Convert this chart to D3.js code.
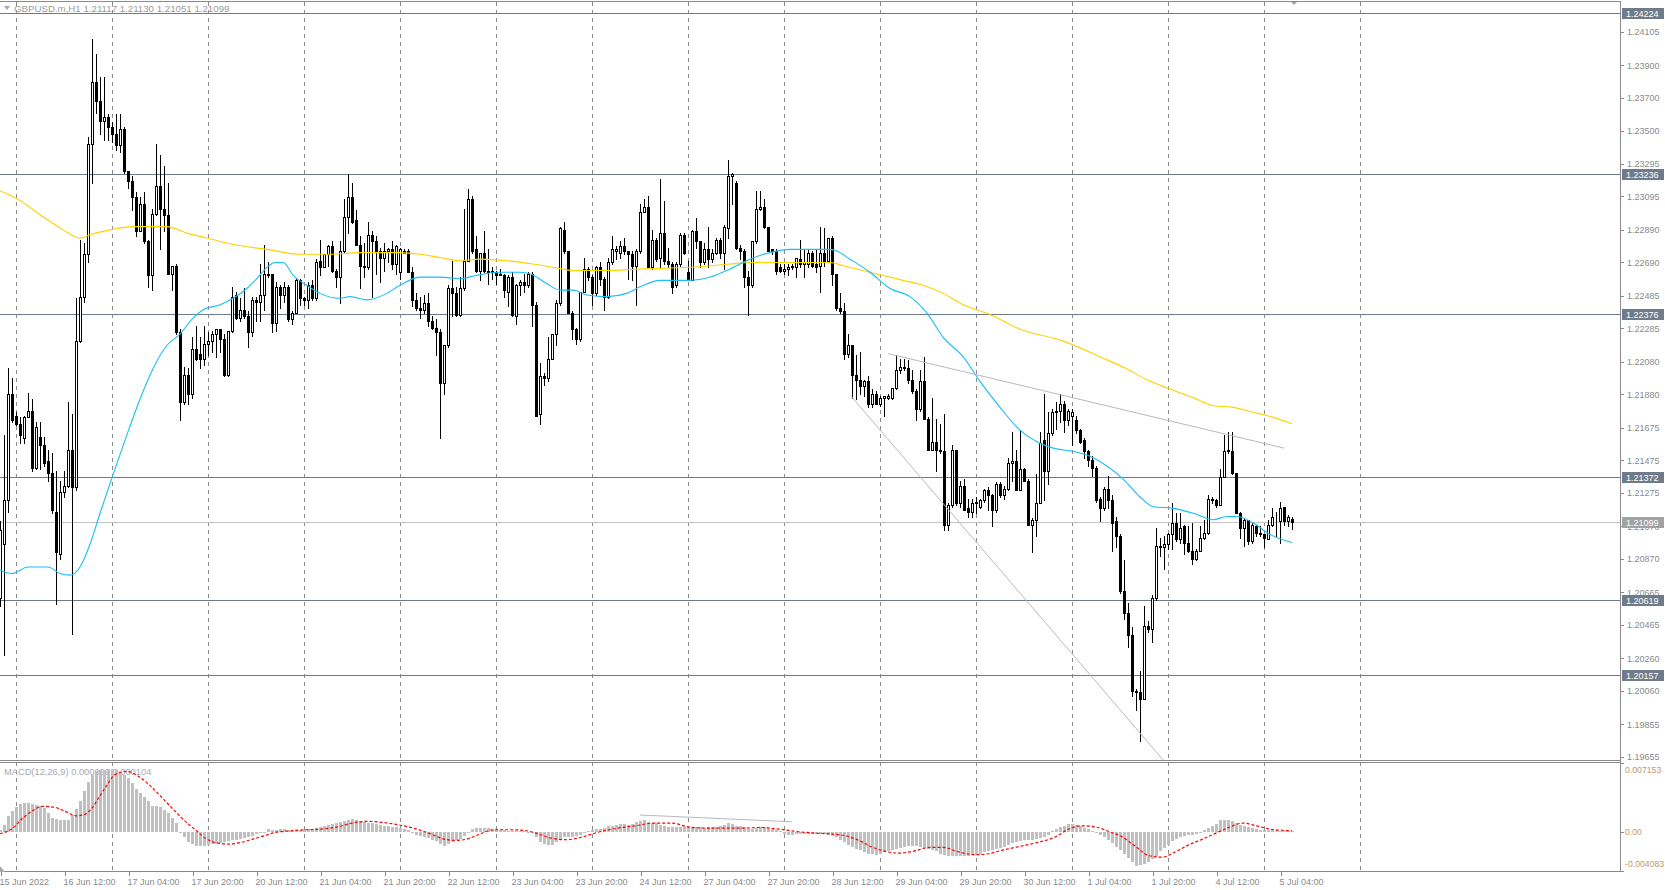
<!DOCTYPE html>
<html><head><meta charset="utf-8">
<script src="https://cdn.jsdelivr.net/npm/d3@7"></script>
<style>
html,body{margin:0;padding:0;background:#fff;overflow:hidden}
svg{display:block}
text{font-family:"Liberation Sans",Arial,sans-serif;font-size:9px}
</style></head><body>
<svg id="c" width="1665" height="890"></svg>
<script>
// ---------------- DATA ----------------
const symbolTitle = "GBPUSD.m,H1  1.21117 1.21130 1.21051 1.21099";
const macdTitle = "MACD(12,26,9) 0.000099 0.000104";
// hourly candles [open, high, low, close], 15 Jun 2022 20:00 .. 5 Jul 2022 07:00
const candles = [
[1.2063,1.2110,1.2058,1.2105],[1.2096,1.2163,1.2028,1.2123],[1.2123,1.2204,1.2116,1.2188],[1.2188,1.2198,1.2171,1.2172],
[1.2175,1.2177,1.2169,1.2170],[1.2170,1.2174,1.2158,1.2163],[1.2161,1.2175,1.2158,1.2174],[1.2174,1.2189,1.2174,1.2178],
[1.2178,1.2185,1.2141,1.2143],[1.2143,1.2171,1.2142,1.2168],[1.2162,1.2171,1.2142,1.2157],[1.2157,1.2162,1.2144,1.2146],
[1.2147,1.2154,1.2135,1.2140],[1.2140,1.2152,1.2115,1.2117],[1.2116,1.2141,1.2059,1.2091],[1.2090,1.2135,1.2087,1.2128],
[1.2128,1.2141,1.2125,1.2132],[1.2132,1.2183,1.2131,1.2154],[1.2154,1.2176,1.2041,1.2131],[1.2131,1.2247,1.2129,1.2221],
[1.2221,1.2283,1.2220,1.2248],[1.2248,1.2281,1.2245,1.2274],[1.2274,1.2346,1.2269,1.2342],[1.2342,1.2406,1.2318,1.2380],
[1.2380,1.2397,1.2361,1.2368],[1.2368,1.2383,1.2348,1.2356],[1.2356,1.2383,1.2344,1.2358],[1.2358,1.2360,1.2344,1.2352],
[1.2352,1.2355,1.2343,1.2348],[1.2348,1.2360,1.2338,1.2341],[1.2341,1.2360,1.2337,1.2351],[1.2351,1.2352,1.2324,1.2325],
[1.2325,1.2325,1.2315,1.2319],[1.2319,1.2322,1.2301,1.2309],[1.2309,1.2312,1.2285,1.2288],[1.2288,1.2309,1.2288,1.2305],
[1.2305,1.2312,1.2281,1.2282],[1.2282,1.2283,1.2254,1.2261],[1.2261,1.2302,1.2252,1.2299],[1.2299,1.2342,1.2298,1.2316],
[1.2316,1.2335,1.2277,1.2302],[1.2302,1.2328,1.2288,1.2298],[1.2298,1.2318,1.2262,1.2262],[1.2262,1.2267,1.2252,1.2267],
[1.2267,1.2268,1.2225,1.2226],[1.2226,1.2228,1.2172,1.2183],[1.2183,1.2205,1.2182,1.2200],[1.2200,1.2204,1.2182,1.2188],
[1.2188,1.2223,1.2186,1.2216],[1.2216,1.2230,1.2209,1.2210],[1.2213,1.2223,1.2204,1.2210],[1.2210,1.2230,1.2206,1.2219],
[1.2219,1.2226,1.2212,1.2221],[1.2221,1.2227,1.2214,1.2225],[1.2225,1.2228,1.2211,1.2228],[1.2228,1.2228,1.2214,1.2222],
[1.2222,1.2225,1.2199,1.2200],[1.2200,1.2227,1.2199,1.2227],[1.2227,1.2254,1.2226,1.2248],[1.2249,1.2251,1.2234,1.2235],
[1.2235,1.2247,1.2233,1.2240],[1.2240,1.2253,1.2235,1.2236],[1.2236,1.2239,1.2217,1.2226],[1.2226,1.2248,1.2224,1.2246],
[1.2246,1.2248,1.2233,1.2245],[1.2245,1.2268,1.2233,1.2249],[1.2249,1.2280,1.2240,1.2262],[1.2262,1.2269,1.2260,1.2261],
[1.2262,1.2262,1.2226,1.2232],[1.2232,1.2257,1.2227,1.2254],[1.2254,1.2255,1.2241,1.2249],[1.2249,1.2257,1.2245,1.2254],
[1.2254,1.2255,1.2233,1.2234],[1.2234,1.2239,1.2231,1.2238],[1.2238,1.2259,1.2238,1.2258],[1.2258,1.2259,1.2243,1.2247],
[1.2247,1.2248,1.2243,1.2246],[1.2246,1.2257,1.2241,1.2255],[1.2255,1.2258,1.2246,1.2247],[1.2247,1.2271,1.2246,1.2269],
[1.2270,1.2283,1.2261,1.2266],[1.2266,1.2274,1.2266,1.2274],[1.2274,1.2280,1.2267,1.2279],[1.2279,1.2282,1.2263,1.2264],
[1.2264,1.2265,1.2254,1.2260],[1.2260,1.2282,1.2244,1.2276],[1.2276,1.2308,1.2275,1.2297],[1.2297,1.2323,1.2287,1.2309],
[1.2309,1.2318,1.2293,1.2294],[1.2295,1.2301,1.2280,1.2280],[1.2280,1.2285,1.2253,1.2267],[1.2267,1.2281,1.2260,1.2266],
[1.2266,1.2294,1.2265,1.2286],[1.2286,1.2288,1.2248,1.2282],[1.2282,1.2285,1.2262,1.2276],[1.2276,1.2278,1.2257,1.2272],
[1.2272,1.2281,1.2264,1.2276],[1.2276,1.2278,1.2269,1.2277],[1.2277,1.2282,1.2265,1.2268],[1.2268,1.2280,1.2262,1.2279],
[1.2263,1.2278,1.2259,1.2277],[1.2276,1.2277,1.2275,1.2275],[1.2276,1.2277,1.2263,1.2263],[1.2263,1.2266,1.2242,1.2246],
[1.2246,1.2250,1.2240,1.2241],[1.2241,1.2248,1.2235,1.2240],[1.2240,1.2249,1.2238,1.2244],[1.2244,1.2250,1.2230,1.2233],
[1.2233,1.2236,1.2228,1.2229],[1.2229,1.2234,1.2212,1.2226],[1.2226,1.2228,1.2161,1.2195],[1.2195,1.2218,1.2188,1.2218],
[1.2218,1.2255,1.2217,1.2253],[1.2253,1.2270,1.2236,1.2250],[1.2250,1.2254,1.2236,1.2237],[1.2237,1.2260,1.2236,1.2253],
[1.2253,1.2302,1.2252,1.2270],[1.2270,1.2314,1.2270,1.2308],[1.2308,1.2310,1.2275,1.2276],[1.2277,1.2285,1.2263,1.2264],
[1.2264,1.2275,1.2258,1.2275],[1.2275,1.2288,1.2263,1.2264],[1.2264,1.2277,1.2256,1.2263],[1.2263,1.2266,1.2259,1.2264],
[1.2263,1.2264,1.2256,1.2261],[1.2262,1.2265,1.2261,1.2261],[1.2261,1.2262,1.2248,1.2252],[1.2251,1.2261,1.2242,1.2260],
[1.2260,1.2263,1.2236,1.2237],[1.2236,1.2256,1.2231,1.2255],[1.2255,1.2258,1.2249,1.2257],[1.2257,1.2262,1.2251,1.2255],
[1.2255,1.2263,1.2254,1.2262],[1.2262,1.2263,1.2230,1.2243],[1.2243,1.2245,1.2175,1.2175],[1.2176,1.2207,1.2170,1.2199],
[1.2199,1.2201,1.2194,1.2198],[1.2198,1.2223,1.2196,1.2210],[1.2210,1.2225,1.2210,1.2225],[1.2225,1.2246,1.2218,1.2244],
[1.2244,1.2291,1.2243,1.2290],[1.2289,1.2294,1.2275,1.2276],[1.2276,1.2276,1.2238,1.2238],[1.2238,1.2239,1.2222,1.2228],
[1.2228,1.2229,1.2219,1.2222],[1.2222,1.2251,1.2221,1.2251],[1.2251,1.2272,1.2251,1.2265],[1.2265,1.2266,1.2258,1.2260],
[1.2260,1.2261,1.2243,1.2250],[1.2250,1.2267,1.2249,1.2266],[1.2266,1.2269,1.2255,1.2259],[1.2259,1.2260,1.2240,1.2248],
[1.2248,1.2272,1.2247,1.2269],[1.2269,1.2285,1.2268,1.2277],[1.2276,1.2279,1.2271,1.2277],[1.2275,1.2282,1.2272,1.2279],
[1.2279,1.2284,1.2274,1.2276],[1.2276,1.2276,1.2259,1.2274],[1.2274,1.2276,1.2258,1.2267],[1.2267,1.2277,1.2243,1.2276],
[1.2276,1.2305,1.2275,1.2300],[1.2300,1.2308,1.2300,1.2303],[1.2303,1.2310,1.2266,1.2266],[1.2266,1.2289,1.2265,1.2283],
[1.2283,1.2284,1.2270,1.2271],[1.2272,1.2320,1.2266,1.2287],[1.2287,1.2307,1.2268,1.2270],[1.2270,1.2278,1.2266,1.2268],
[1.2268,1.2269,1.2250,1.2254],[1.2255,1.2269,1.2254,1.2268],[1.2268,1.2287,1.2267,1.2286],[1.2286,1.2287,1.2274,1.2275],
[1.2263,1.2270,1.2258,1.2258],[1.2258,1.2289,1.2258,1.2288],[1.2288,1.2296,1.2278,1.2282],[1.2282,1.2282,1.2266,1.2269],
[1.2269,1.2281,1.2268,1.2277],[1.2277,1.2291,1.2266,1.2271],[1.2271,1.2277,1.2269,1.2275],[1.2275,1.2284,1.2274,1.2283],
[1.2283,1.2284,1.2272,1.2275],[1.2275,1.2292,1.2265,1.2291],[1.2290,1.2332,1.2284,1.2322],[1.2322,1.2324,1.2305,1.2323],
[1.2318,1.2319,1.2277,1.2278],[1.2278,1.2280,1.2271,1.2276],[1.2276,1.2277,1.2254,1.2260],[1.2260,1.2264,1.2237,1.2255],
[1.2255,1.2282,1.2254,1.2282],[1.2282,1.2313,1.2281,1.2302],[1.2302,1.2313,1.2301,1.2303],[1.2303,1.2308,1.2290,1.2291],
[1.2291,1.2291,1.2276,1.2276],[1.2277,1.2277,1.2274,1.2276],[1.2276,1.2277,1.2262,1.2264],[1.2266,1.2268,1.2263,1.2264],
[1.2264,1.2268,1.2262,1.2265],[1.2265,1.2268,1.2261,1.2266],[1.2266,1.2268,1.2265,1.2267],[1.2266,1.2272,1.2260,1.2272],
[1.2271,1.2283,1.2266,1.2268],[1.2268,1.2277,1.2260,1.2269],[1.2268,1.2277,1.2266,1.2275],[1.2275,1.2276,1.2266,1.2267],
[1.2268,1.2277,1.2263,1.2266],[1.2267,1.2291,1.2251,1.2275],[1.2275,1.2290,1.2267,1.2270],[1.2270,1.2284,1.2269,1.2284],
[1.2284,1.2285,1.2255,1.2262],[1.2262,1.2262,1.2240,1.2241],[1.2241,1.2250,1.2238,1.2239],[1.2239,1.2244,1.2210,1.2213],
[1.2213,1.2225,1.2211,1.2218],[1.2218,1.2218,1.2186,1.2200],[1.2200,1.2212,1.2185,1.2197],[1.2197,1.2214,1.2188,1.2193],
[1.2193,1.2197,1.2187,1.2196],[1.2196,1.2199,1.2180,1.2182],[1.2182,1.2191,1.2180,1.2188],[1.2188,1.2190,1.2182,1.2182],
[1.2182,1.2187,1.2181,1.2186],[1.2186,1.2187,1.2175,1.2187],[1.2186,1.2188,1.2185,1.2187],[1.2186,1.2192,1.2185,1.2192],
[1.2192,1.2212,1.2191,1.2203],[1.2203,1.2210,1.2201,1.2205],[1.2205,1.2210,1.2203,1.2204],[1.2204,1.2209,1.2195,1.2197],
[1.2197,1.2203,1.2189,1.2190],[1.2190,1.2191,1.2172,1.2179],[1.2179,1.2203,1.2178,1.2196],[1.2196,1.2211,1.2173,1.2173],
[1.2173,1.2174,1.2154,1.2154],[1.2154,1.2186,1.2154,1.2159],[1.2159,1.2173,1.2141,1.2154],[1.2154,1.2170,1.2152,1.2153],
[1.2153,1.2176,1.2105,1.2108],[1.2108,1.2121,1.2105,1.2120],[1.2120,1.2157,1.2119,1.2154],[1.2154,1.2154,1.2120,1.2121],
[1.2121,1.2135,1.2119,1.2132],[1.2132,1.2136,1.2117,1.2117],[1.2118,1.2124,1.2113,1.2116],[1.2116,1.2124,1.2113,1.2121],
[1.2121,1.2125,1.2115,1.2122],[1.2119,1.2124,1.2118,1.2123],[1.2123,1.2130,1.2122,1.2129],[1.2129,1.2131,1.2117,1.2126],
[1.2126,1.2127,1.2107,1.2117],[1.2117,1.2134,1.2116,1.2133],[1.2133,1.2134,1.2125,1.2126],[1.2126,1.2132,1.2124,1.2130],
[1.2130,1.2149,1.2129,1.2146],[1.2146,1.2165,1.2135,1.2147],[1.2147,1.2154,1.2129,1.2129],[1.2129,1.2166,1.2129,1.2142],
[1.2142,1.2143,1.2135,1.2135],[1.2135,1.2136,1.2108,1.2108],[1.2108,1.2112,1.2091,1.2111],[1.2111,1.2139,1.2101,1.2121],
[1.2121,1.2165,1.2121,1.2158],[1.2160,1.2188,1.2123,1.2141],[1.2141,1.2177,1.2133,1.2164],[1.2164,1.2179,1.2163,1.2177],
[1.2177,1.2183,1.2167,1.2178],[1.2178,1.2188,1.2171,1.2182],[1.2182,1.2184,1.2165,1.2172],[1.2172,1.2179,1.2169,1.2178],
[1.2175,1.2179,1.2157,1.2177],[1.2172,1.2175,1.2164,1.2166],[1.2166,1.2167,1.2158,1.2159],[1.2160,1.2161,1.2149,1.2153],
[1.2153,1.2154,1.2144,1.2148],[1.2148,1.2150,1.2138,1.2143],[1.2143,1.2144,1.2122,1.2123],[1.2124,1.2125,1.2110,1.2118],
[1.2118,1.2131,1.2117,1.2130],[1.2130,1.2138,1.2118,1.2123],[1.2123,1.2126,1.2092,1.2109],[1.2110,1.2113,1.2094,1.2101],
[1.2101,1.2102,1.2066,1.2067],[1.2067,1.2086,1.2050,1.2054],[1.2054,1.2060,1.2033,1.2040],[1.2040,1.2045,1.2003,1.2006],
[1.2006,1.2007,1.1994,1.2005],[1.2005,1.2018,1.1975,1.2001],[1.2001,1.2058,1.2001,1.2046],[1.2046,1.2049,1.2042,1.2044],
[1.2044,1.2065,1.2036,1.2063],[1.2063,1.2106,1.2062,1.2095],[1.2095,1.2100,1.2089,1.2094],[1.2094,1.2101,1.2081,1.2096],
[1.2096,1.2103,1.2093,1.2102],[1.2102,1.2121,1.2093,1.2109],[1.2109,1.2115,1.2098,1.2099],[1.2099,1.2115,1.2097,1.2106],
[1.2107,1.2108,1.2090,1.2097],[1.2097,1.2107,1.2091,1.2092],[1.2092,1.2109,1.2084,1.2087],[1.2087,1.2093,1.2086,1.2092],
[1.2092,1.2107,1.2092,1.2100],[1.2100,1.2111,1.2099,1.2103],[1.2103,1.2126,1.2102,1.2124],[1.2124,1.2125,1.2121,1.2123],
[1.2123,1.2124,1.2119,1.2120],[1.2120,1.2142,1.2120,1.2137],[1.2137,1.2163,1.2137,1.2153],[1.2153,1.2165,1.2152,1.2154],
[1.2153,1.2165,1.2139,1.2140],[1.2140,1.2140,1.2115,1.2115],[1.2115,1.2116,1.2100,1.2106],[1.2106,1.2112,1.2095,1.2111],
[1.2111,1.2111,1.2096,1.2098],[1.2098,1.2109,1.2097,1.2108],[1.2107,1.2108,1.2101,1.2103],[1.2103,1.2107,1.2101,1.2102],
[1.2102,1.2102,1.2094,1.2100],[1.2099,1.2111,1.2099,1.2108],[1.2108,1.2118,1.2107,1.2113],[1.2113,1.2116,1.2101,1.2113],
[1.2110,1.2122,1.2097,1.2118],[1.2119,1.2119,1.2108,1.2110],[1.2110,1.2114,1.2107,1.2113],[1.21117,1.21130,1.21051,1.21099]
];
// moving averages read as [bar, price]
const maFast = [[0,1.2080],[3,1.2078],[7,1.2082],[12,1.2082],[15,1.2078],[17.5,1.2077],[20,1.2082],[22.5,1.2096],[25,1.2115],[28.3,1.2139],[31.7,1.2163],[35,1.2185],[38.3,1.2204],[41.7,1.2218],[45,1.2225],[48.3,1.2235],[50.8,1.2240],[55,1.2243],[58.3,1.2247],[61.7,1.2253],[64.2,1.2259],[66.7,1.2266],[68.8,1.2269],[70.8,1.2269],[73.3,1.2261],[76.7,1.2255],[80,1.2250],[85,1.2247],[87.5,1.2248],[91.7,1.2246],[96.7,1.2250],[100,1.2255],[105,1.2260],[110,1.2260],[115,1.2259],[119,1.2261],[125,1.2263],[130,1.2263],[132.5,1.2262],[136.7,1.2256],[140,1.2252],[143.3,1.2252],[146.7,1.2249],[151.7,1.2248],[156.7,1.2250],[160,1.2254],[165,1.2258],[172.5,1.2258],[177.5,1.2260],[182.5,1.2265],[187.5,1.2271],[192.5,1.2275],[197.5,1.2277],[207.5,1.2277],[209.2,1.2276],[212.5,1.2271],[217.5,1.2263],[222.5,1.2253],[227.5,1.2248],[231.7,1.2238],[235.8,1.2223],[240.8,1.2211],[245,1.2196],[250,1.2180],[255,1.2166],[260,1.2158],[263.3,1.2155],[268.3,1.2153],[272.5,1.2150],[276.7,1.2144],[280.8,1.2136],[285,1.2125],[288.3,1.2119],[293.3,1.2118],[298.3,1.2115],[303.3,1.2111],[306.7,1.2113],[309.2,1.2113],[313.3,1.2109],[317.5,1.2102],[323,1.2097]];
const maSlow = [[0,1.2313],[5,1.2307],[10.8,1.2297],[15.8,1.2289],[20,1.2284],[22.5,1.2286],[27.5,1.2289],[33.3,1.2291],[41.7,1.2291],[46.7,1.2287],[51.7,1.2284],[58.3,1.2280],[66.7,1.2277],[75,1.2274],[82.5,1.2274],[90,1.2275],[100,1.2275],[105,1.2274],[110,1.2272],[115,1.2270],[120,1.2271],[126.7,1.2270],[133.3,1.2268],[138.3,1.2266],[143.3,1.2264],[151.7,1.2264],[160,1.2265],[172.5,1.2266],[182.5,1.2268],[187.5,1.2269],[207.5,1.2269],[210.8,1.2267],[215.8,1.2264],[220.8,1.2261],[225.8,1.2258],[230.8,1.2255],[235.8,1.2250],[240.8,1.2243],[247.5,1.2237],[255,1.2228],[265.5,1.2221],[276,1.2210],[281.4,1.2204],[286.7,1.2197],[291.7,1.2192],[298.3,1.2186],[303.3,1.2181],[308.3,1.2180],[313.3,1.2177],[316.7,1.2175],[323,1.2170]];
// MACD main (histogram), one value per candle
const macdHist = [0.00021,0.00073,0.00160,0.00212,0.00257,0.00288,0.00298,0.00298,0.00288,0.00281,0.00264,0.00246,0.00194,0.00142,0.00132,0.00118,0.00125,0.00125,0.00177,0.00236,
0.00316,0.00420,0.00517,0.00593,0.00635,0.00638,0.00645,0.00652,0.00652,0.00638,0.00617,0.00593,0.00558,0.00506,0.00444,0.00402,0.00357,0.00316,0.00271,0.00264,
0.00257,0.00229,0.00194,0.00142,0.00090,-0.00007,-0.00055,-0.00111,-0.00128,-0.00146,-0.00153,-0.00146,-0.00135,-0.00128,-0.00125,-0.00118,-0.00111,-0.00101,-0.00090,-0.00083,
-0.00076,-0.00066,-0.00055,-0.00042,-0.00028,-0.00014,-0.00007,0.00028,0.00021,0.00021,0.00028,0.00028,0.00021,0.00021,0.00021,0.00017,0.00021,0.00028,0.00031,0.00038,
0.00049,0.00062,0.00073,0.00083,0.00090,0.00097,0.00108,0.00125,0.00135,0.00125,0.00108,0.00097,0.00090,0.00090,0.00083,0.00073,0.00062,0.00055,0.00049,0.00049,
0.00038,0.00028,0.00014,-0.00014,-0.00031,-0.00042,-0.00055,-0.00066,-0.00083,-0.00101,-0.00125,-0.00146,-0.00128,-0.00104,-0.00090,-0.00076,-0.00049,-0.00007,0.00028,0.00035,
0.00038,0.00038,0.00035,0.00028,0.00028,0.00021,0.00014,0.00010,0.00007,0.00007,0.00003,0.00003,0.00000,-0.00014,-0.00055,-0.00111,-0.00132,-0.00135,-0.00135,-0.00111,
-0.00076,-0.00055,-0.00055,-0.00055,-0.00042,-0.00031,-0.00014,0.00003,0.00021,0.00028,0.00028,0.00038,0.00055,0.00062,0.00073,0.00083,0.00083,0.00073,0.00083,0.00097,
0.00108,0.00118,0.00097,0.00090,0.00090,0.00073,0.00062,0.00049,0.00045,0.00045,0.00045,0.00045,0.00045,0.00049,0.00045,0.00045,0.00038,0.00045,0.00049,0.00049,
0.00062,0.00073,0.00090,0.00083,0.00062,0.00055,0.00045,0.00028,0.00028,0.00038,0.00045,0.00049,0.00038,0.00028,0.00021,0.00003,-0.00021,-0.00031,-0.00031,-0.00024,
-0.00021,-0.00021,-0.00021,-0.00021,-0.00021,-0.00021,-0.00021,-0.00031,-0.00042,-0.00055,-0.00083,-0.00111,-0.00135,-0.00160,-0.00180,-0.00194,-0.00215,-0.00229,-0.00229,-0.00239,
-0.00232,-0.00215,-0.00205,-0.00194,-0.00180,-0.00170,-0.00160,-0.00153,-0.00153,-0.00153,-0.00160,-0.00170,-0.00180,-0.00187,-0.00198,-0.00229,-0.00239,-0.00250,-0.00250,-0.00250,
-0.00250,-0.00250,-0.00250,-0.00239,-0.00239,-0.00229,-0.00215,-0.00205,-0.00194,-0.00180,-0.00170,-0.00160,-0.00135,-0.00118,-0.00111,-0.00101,-0.00090,-0.00090,-0.00083,-0.00076,
-0.00066,-0.00055,-0.00031,0.00010,0.00028,0.00049,0.00062,0.00083,0.00083,0.00073,0.00055,0.00038,0.00028,0.00010,-0.00014,-0.00031,-0.00055,-0.00083,-0.00118,-0.00160,
-0.00187,-0.00229,-0.00274,-0.00319,-0.00354,-0.00343,-0.00333,-0.00319,-0.00284,-0.00250,-0.00205,-0.00170,-0.00135,-0.00101,-0.00076,-0.00055,-0.00042,-0.00035,-0.00035,-0.00021,
-0.00014,0.00021,0.00038,0.00055,0.00083,0.00118,0.00125,0.00118,0.00108,0.00090,0.00073,0.00062,0.00049,0.00038,0.00028,0.00021,0.00014,0.00014,0.00014,0.00010,
0.00010,0.00010,0.00010,0.000099];
// MACD signal line read as [bar, value]
const macdSignal = [[0,-0.00021],[2.9,0.00028],[5.7,0.00142],[8.6,0.00229],[10.5,0.00264],[13.4,0.00257],[16.3,0.00212],[19.1,0.00166],[21,0.00177],[23,0.00246],[24.9,0.00368],[26.8,0.00489],[28.7,0.00593],[31.6,0.00628],[34.4,0.00583],[37.3,0.00489],[40.2,0.00368],[43,0.00246],[45.9,0.00125],[48.8,0.00021],[51.7,-0.00076],[54.5,-0.00118],[57.4,-0.00128],[60.3,-0.00111],[63.2,-0.00076],[66,-0.00042],[68.9,-0.00007],[72.7,0.00010],[76.6,0.00021],[80.4,0.00028],[84.2,0.00049],[88,0.00090],[91.9,0.00108],[95.7,0.00097],[99.5,0.00073],[103.3,0.00038],[107.2,-0.00014],[111,-0.00076],[113.9,-0.00090],[116.7,-0.00076],[119.6,-0.00031],[123.4,0.00021],[127.3,0.00021],[131.1,0.00014],[134,-0.00014],[137.8,-0.00066],[141.6,-0.00083],[145.5,-0.00055],[149.3,-0.00007],[154.5,0.00038],[158.9,0.00062],[163.4,0.00090],[167.9,0.00090],[172.3,0.00049],[176.8,0.00038],[181.3,0.00038],[185.7,0.00038],[190.2,0.00045],[194.6,0.00028],[199.1,0.00003],[203.6,-0.00014],[208,-0.00024],[211.4,-0.00042],[214.7,-0.00090],[218.1,-0.00160],[221.4,-0.00205],[224.8,-0.00222],[228.1,-0.00205],[232.6,-0.00163],[235.9,-0.00163],[239.3,-0.00205],[243.8,-0.00239],[247.1,-0.00229],[250.4,-0.00194],[254.9,-0.00153],[259.4,-0.00111],[263.8,-0.00055],[267.2,0.00028],[270.5,0.00062],[273.9,0.00049],[277.2,0.00003],[280.6,-0.00055],[283.9,-0.00153],[287.3,-0.00250],[290.6,-0.00264],[294,-0.00205],[297.3,-0.00135],[300.7,-0.00076],[304,-0.00014],[307.4,0.00049],[310.7,0.00090],[314.1,0.00062],[317.4,0.00028],[320.8,0.00014],[323,0.000104]];
// horizontal levels and last price
const levels = [1.24224, 1.23236, 1.22376, 1.21372, 1.20619, 1.20157];
const lastPrice = 1.21099;
// trend lines [bar, value]
const trendUpper = [[222,1.2213],[321,1.2155]];
const trendLower = [[212.9,1.21865],[290.8,1.19635]];
const trendMacd = [[160,0.00174],[198,0.00104]];
// axis ticks
const priceTicks = [1.24105,1.23900,1.23700,1.23500,1.23295,1.23095,1.22890,1.22690,1.22485,1.22285,1.22080,1.21880,1.21675,1.21475,1.21275,1.21070,1.20870,1.20665,1.20465,1.20260,1.20060,1.19855,1.19655];
const macdTicks = [0.007153, 0, -0.004083];
const macdTickText = ["0.007153", "0.00", "-0.004083"];
const timeTickBars = [0,16,32,48,64,80,96,112,128,144,160,176,192,208,224,240,256,272,288,304,320];
const timeTickLabels = ["15 Jun 2022","16 Jun 12:00","17 Jun 04:00","17 Jun 20:00","20 Jun 12:00","21 Jun 04:00","21 Jun 20:00","22 Jun 12:00","23 Jun 04:00","23 Jun 20:00","24 Jun 12:00","27 Jun 04:00","27 Jun 20:00","28 Jun 12:00","29 Jun 04:00","29 Jun 20:00","30 Jun 12:00","1 Jul 04:00","1 Jul 20:00","4 Jul 12:00","5 Jul 04:00"];
const dayStartBars = [4,28,52,76,100,124,148,172,196,220,244,268,292,316,340];

// ---------------- LAYOUT ----------------
const W = 1665, H = 890;
const plotRight = 1620;
const mainTop = 2, mainBottom = 760;
const macdTop = 763, macdBottom = 871;
const C = {
  grid: "#8c8c8c", frame: "#8a8a8a", level: "#6f7b8a", last: "#c4c4c4",
  axisText: "#8a8a8a", macdText: "#bf9a6a", title: "#9a9a9a",
  fast: "#18bff5", slow: "#ffd200", trend: "#b9b9b9", hist: "#c0c0c0", signal: "#ff0000"
};

const svg = d3.select("#c");
const x = d3.scaleLinear().domain([0, 405]).range([0, plotRight]);
const y = d3.scaleLinear().domain([1.19635, 1.24289]).range([mainBottom, mainTop]);
const ym = d3.scaleLinear().domain([-0.004083, 0.007153]).range([macdBottom, macdTop]);
const px = i => Math.round(x(i));

svg.append("rect").attr("width", W).attr("height", H).attr("fill", "#fff");

// clip paths
svg.append("clipPath").attr("id", "clipMain").append("rect")
  .attr("x", 0).attr("y", mainTop).attr("width", plotRight).attr("height", mainBottom - mainTop);
svg.append("clipPath").attr("id", "clipMacd").append("rect")
  .attr("x", 0).attr("y", macdTop).attr("width", plotRight).attr("height", macdBottom - macdTop);

// vertical dashed grid (daily)
svg.append("g").selectAll("line").data(dayStartBars).join("line")
  .attr("x1", d => px(d) + 0.5).attr("x2", d => px(d) + 0.5)
  .attr("y1", mainTop).attr("y2", macdBottom)
  .attr("stroke", C.grid).attr("stroke-dasharray", "4,4").attr("shape-rendering", "crispEdges");

// title
svg.append("path").attr("d", "M4,6 L10,6 L7,10 Z").attr("fill", "#a8a8a8");
svg.append("text").attr("x", 14).attr("y", 11.5).attr("fill", C.title)
  .style("font-size", "9.7px").text(symbolTitle);

const gMain = svg.append("g").attr("clip-path", "url(#clipMain)");

// level lines
gMain.selectAll("line.lvl").data(levels).join("line").attr("class", "lvl")
  .attr("x1", 0).attr("x2", plotRight)
  .attr("y1", d => Math.round(y(d)) + 0.5).attr("y2", d => Math.round(y(d)) + 0.5)
  .attr("stroke", C.level).attr("shape-rendering", "crispEdges");
gMain.append("line").attr("x1", 0).attr("x2", plotRight)
  .attr("y1", Math.round(y(lastPrice)) + 0.5).attr("y2", Math.round(y(lastPrice)) + 0.5)
  .attr("stroke", C.last).attr("shape-rendering", "crispEdges");

// candles
const cg = gMain.append("g").attr("shape-rendering", "crispEdges");
const cdata = candles.map((c, i) => ({i, o: c[0], h: Math.max(c[1], c[0], c[3]), l: Math.min(c[2], c[0], c[3]), c: c[3]}));
cg.selectAll("line").data(cdata).join("line")
  .attr("x1", d => px(d.i) + 0.5).attr("x2", d => px(d.i) + 0.5)
  .attr("y1", d => Math.round(y(d.h))).attr("y2", d => Math.round(y(d.l)) + 1)
  .attr("stroke", "#000");
cg.selectAll("rect").data(cdata).join("rect")
  .attr("x", d => px(d.i) - 0.5)
  .attr("y", d => Math.round(y(Math.max(d.o, d.c))) + 0.5)
  .attr("width", 2)
  .attr("height", d => Math.max(0, Math.round(y(Math.min(d.o, d.c))) - Math.round(y(Math.max(d.o, d.c)))))
  .attr("fill", d => d.c >= d.o ? "#fff" : "#000")
  .attr("stroke", "#000");

// moving averages
const lineP = d3.line().x(d => x(d[0])).y(d => y(d[1])).curve(d3.curveMonotoneX);
gMain.append("path").attr("d", lineP(maSlow)).attr("fill", "none").attr("stroke", C.slow).attr("stroke-width", 1.1);
gMain.append("path").attr("d", lineP(maFast)).attr("fill", "none").attr("stroke", C.fast).attr("stroke-width", 1.1);

// trend lines
const lineT = d3.line().x(d => x(d[0])).y(d => y(d[1]));
gMain.append("path").attr("d", lineT(trendUpper)).attr("fill", "none").attr("stroke", C.trend);
gMain.append("path").attr("d", lineT(trendLower)).attr("fill", "none").attr("stroke", C.trend);

// chart shift marker
svg.append("path").attr("d", `M${x(323.5) - 4},1 L${x(323.5) + 4},1 L${x(323.5)},5 Z`).attr("fill", "#a8a8a8");

// ---------- MACD ----------
svg.append("text").attr("x", 4).attr("y", 775).attr("fill", "#a3a9b2")
  .style("font-size", "9.3px").text(macdTitle);
const gM = svg.append("g").attr("clip-path", "url(#clipMacd)");
const zeroY = Math.round(ym(0));
gM.append("g").attr("shape-rendering", "crispEdges").selectAll("rect").data(macdHist.map((v, i) => ({i, v}))).join("rect")
  .attr("x", d => px(d.i) - 1)
  .attr("width", 3)
  .attr("y", d => d.v >= 0 ? Math.round(ym(d.v)) : zeroY)
  .attr("height", d => Math.max(1, Math.abs(Math.round(ym(d.v)) - zeroY)))
  .attr("fill", C.hist);
const lineM = d3.line().x(d => x(d[0])).y(d => ym(d[1])).curve(d3.curveMonotoneX);
gM.append("path").attr("d", lineM(macdSignal)).attr("fill", "none").attr("stroke", C.signal)
  .attr("stroke-width", 1.2).attr("stroke-dasharray", "3,2");
const lineMT = d3.line().x(d => x(d[0])).y(d => ym(d[1]));
gM.append("path").attr("d", lineMT(trendMacd)).attr("fill", "none").attr("stroke", C.trend);

// ---------- frames ----------
const fr = svg.append("g").attr("stroke", C.frame).attr("shape-rendering", "crispEdges");
fr.append("line").attr("x1", 0).attr("x2", plotRight).attr("y1", 1.5).attr("y2", 1.5);
fr.append("line").attr("x1", 0).attr("x2", plotRight).attr("y1", mainBottom + 0.5).attr("y2", mainBottom + 0.5);
fr.append("line").attr("x1", 0).attr("x2", plotRight).attr("y1", macdTop - 0.5).attr("y2", macdTop - 0.5);
fr.append("line").attr("x1", 0).attr("x2", plotRight).attr("y1", macdBottom + 0.5).attr("y2", macdBottom + 0.5);
fr.append("line").attr("x1", plotRight + 0.5).attr("x2", plotRight + 0.5).attr("y1", 1).attr("y2", macdBottom + 1);

// ---------- axes ----------
function styleAxis(g, color, size) {
  g.select(".domain").remove();
  g.selectAll(".tick line").attr("stroke", C.frame).attr("shape-rendering", "crispEdges");
  g.selectAll("text").attr("fill", color)
    .style("font-family", '"Liberation Sans",Arial,sans-serif').style("font-size", size || "9px");
}
const gy = svg.append("g").attr("transform", `translate(${plotRight + 1},0)`)
  .call(d3.axisRight(y).tickValues(priceTicks).tickFormat(d3.format(".5f")).tickSize(3).tickPadding(3));
styleAxis(gy, C.axisText);

const gym = svg.append("g").attr("transform", `translate(${plotRight + 1},0)`)
  .call(d3.axisRight(ym).tickValues(macdTicks).tickFormat((d, i) => macdTickText[i]).tickSize(3).tickPadding(1));
styleAxis(gym, C.macdText, "8.7px");
gym.selectAll(".tick text").attr("y", (d, i) => i === 0 ? 7 : (i === 2 ? -7 : 0));

const gx = svg.append("g").attr("transform", `translate(0,${macdBottom + 1})`)
  .call(d3.axisBottom(x).tickValues(timeTickBars).tickFormat((d, i) => timeTickLabels[i]).tickSize(4).tickPadding(3));
styleAxis(gx, C.axisText);
gx.selectAll(".tick line").attr("transform", "translate(0.5,0)");
gx.selectAll(".tick text").attr("text-anchor", "start").attr("x", -1);
svg.append("path").attr("d", `M0,${macdBottom - 5} L0,${macdBottom + 1} L5,${macdBottom + 1} Z`).attr("fill", "#a8a8a8");

// level labels on price scale
const lbl = svg.append("g");
levels.forEach(v => {
  const yy = Math.round(y(v));
  lbl.append("rect").attr("x", plotRight + 2).attr("y", yy - 5).attr("width", 42).attr("height", 11).attr("fill", C.level);
  lbl.append("text").attr("x", plotRight + 6).attr("y", yy + 3.5).attr("fill", "#fff").text(d3.format(".5f")(v));
});
{
  const yy = Math.round(y(lastPrice));
  lbl.append("rect").attr("x", plotRight + 2).attr("y", yy - 5).attr("width", 42).attr("height", 11).attr("fill", "#a2a2a2");
  lbl.append("text").attr("x", plotRight + 6).attr("y", yy + 3.5).attr("fill", "#fff").text(d3.format(".5f")(lastPrice));
}
</script>
</body></html>
